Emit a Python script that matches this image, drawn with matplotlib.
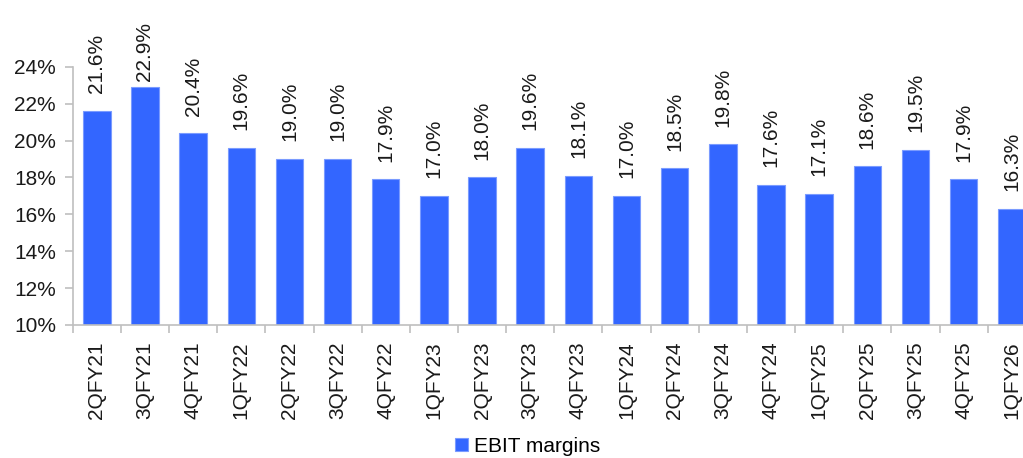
import matplotlib
matplotlib.use("Agg")
import matplotlib.pyplot as plt
import numpy as np

categories = ["2QFY21", "3QFY21", "4QFY21", "1QFY22", "2QFY22", "3QFY22", "4QFY22",
              "1QFY23", "2QFY23", "3QFY23", "4QFY23", "1QFY24", "2QFY24", "3QFY24",
              "4QFY24", "1QFY25", "2QFY25", "3QFY25", "4QFY25", "1QFY26"]
ebit_margins = [21.6, 22.9, 20.4, 19.6, 19.0, 19.0, 17.9, 17.0, 18.0, 19.6, 18.1,
                17.0, 18.5, 19.8, 17.6, 17.1, 18.6, 19.5, 17.9, 16.3]
yticks = [10, 12, 14, 16, 18, 20, 22, 24]

plt.rcParams['font.family'] = ['Liberation Sans', 'DejaVu Sans']
FS = 15

W, H = 1023, 458
fig = plt.figure(figsize=(W / 100, H / 100), dpi=100)
left, right, top, bottom = 72.7, 1035.9, 66.7, 325.0
ax = fig.add_axes([left / W, 1 - bottom / H, (right - left) / W, (bottom - top) / H])

x = np.arange(len(categories))
color = "#3366FF"
bars = ax.bar(x, ebit_margins, width=0.57, color=color, edgecolor="#7A9BFF",
              linewidth=0.8, label="EBIT margins", zorder=2)

ax.set_xlim(-0.5, len(categories) - 0.5)
ax.set_ylim(10, 24)
ax.set_yticks(yticks)
ax.set_yticklabels([f"{v}%" for v in yticks], fontsize=FS, color="#1a1a1a")
ax.set_xticks(x)
ax.set_xticklabels(categories, rotation=90, fontsize=FS, color="#1a1a1a")
ax.set_xticks(np.arange(-0.5, len(categories), 1.0), minor=True)
ax.tick_params(axis="x", which="major", length=0, pad=12)
ax.tick_params(axis="x", which="minor", length=6, color="#BFBFBF", width=1.2)
ax.tick_params(axis="y", length=6, color="#BFBFBF", width=1.2, pad=6)

for s in ["top", "right"]:
    ax.spines[s].set_visible(False)
for s in ["left", "bottom"]:
    ax.spines[s].set_color("#BFBFBF")
    ax.spines[s].set_linewidth(1.2)

for xi, v in zip(x, ebit_margins):
    ypos = min(v + 0.95, 23.25)
    ax.text(xi, ypos, f"{v:.1f}%", rotation=90, ha="center", va="bottom",
            fontsize=FS, color="#1a1a1a", clip_on=False)

leg = fig.legend(handles=[bars], labels=["EBIT margins"], loc="center",
                 bbox_to_anchor=(528 / W, 1 - 446 / H), frameon=False,
                 fontsize=FS, handlelength=0.6, handleheight=0.6,
                 handletextpad=0.3)

fig.savefig("out.png", dpi=100)
